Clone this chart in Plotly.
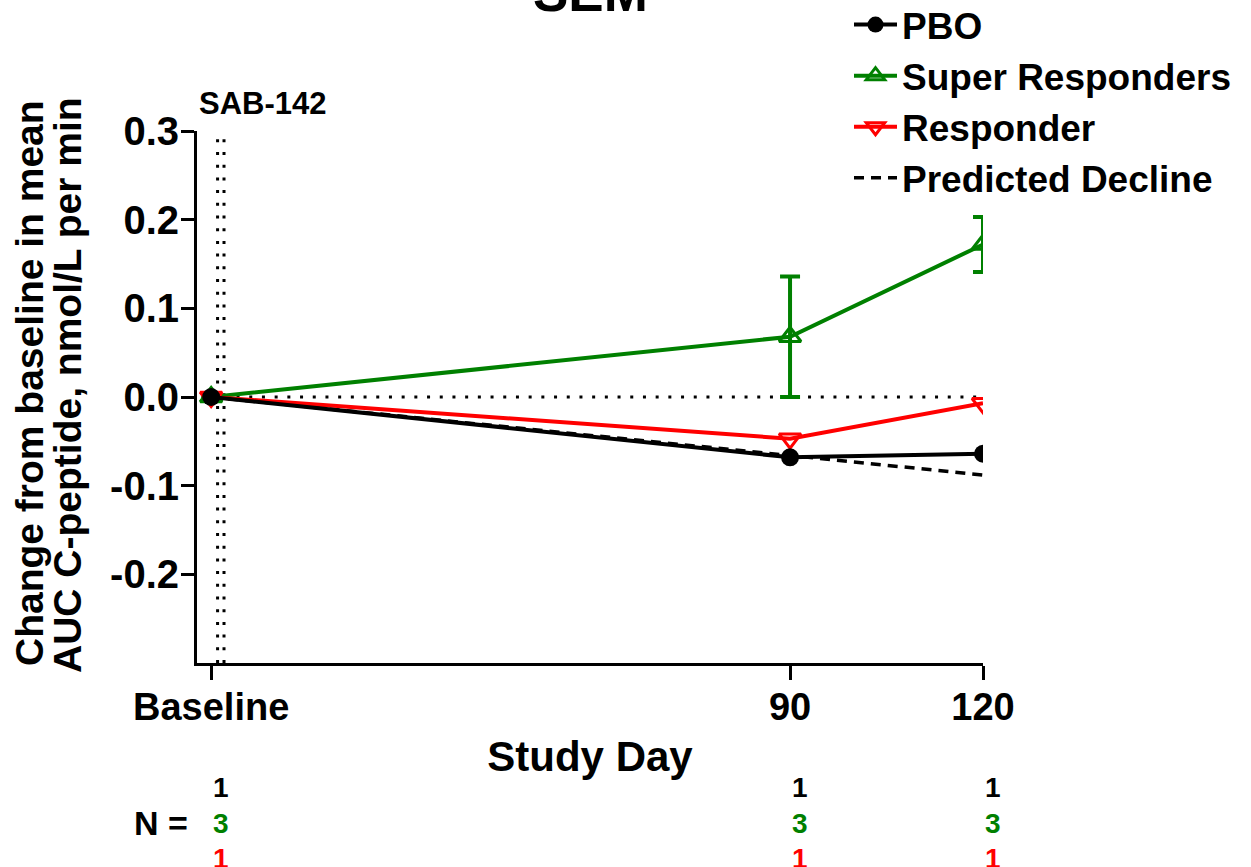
import plotly.graph_objects as go

# ---- data ----
days = [0, 90, 120]
x_ticktext = ["Baseline", "90", "120"]
pbo = [0.0, -0.068, -0.064]
super_resp = [0.0, 0.068, 0.172]
super_err = [0.0, 0.068, 0.031]
responder = [0.0, -0.047, -0.007]
predicted = [0.0, -0.066, -0.088]
zero_line = [0.0, 0.0]
zero_days = [0, 120]
dosing_days = [1, 2]
y_ticks = [-0.2, -0.1, 0.0, 0.1, 0.2, 0.3]
y_ticktext = ["-0.2", "-0.1", "0.0", "0.1", "0.2", "0.3"]
n_pbo = [1, 1, 1]
n_super = [3, 3, 3]
n_resp = [1, 1, 1]

FONT = "Liberation Sans, Arial, sans-serif"
GREEN = "#008000"
RED = "#FF0000"

fig = go.Figure()

# dosing reference lines (dotted vertical)
for d in dosing_days:
    fig.add_trace(go.Scatter(x=[d, d], y=[-0.3, 0.3], mode="lines",
                             line=dict(color="black", width=3, dash="3px,9.7px"),
                             showlegend=False, hoverinfo="skip", cliponaxis=False))
# zero dotted line
fig.add_trace(go.Scatter(x=zero_days, y=zero_line, mode="lines",
                         line=dict(color="black", width=3, dash="3px,9.7px"),
                         showlegend=False, hoverinfo="skip"))

fig.add_trace(go.Scatter(x=days, y=predicted, mode="lines", name="Predicted Decline",
                         line=dict(color="black", width=3.5, dash="10px,7px"),
                         legendrank=4))
fig.add_trace(go.Scatter(x=days, y=super_resp, mode="lines+markers", name="Super Responders",
                         line=dict(color=GREEN, width=4),
                         marker=dict(symbol="triangle-up-open", size=19, color=GREEN,
                                     line=dict(width=3, color=GREEN)),
                         error_y=dict(type="data", array=super_err, visible=True,
                                      color=GREEN, thickness=4, width=10),
                         legendrank=2))
fig.add_trace(go.Scatter(x=days, y=responder, mode="lines+markers", name="Responder",
                         line=dict(color=RED, width=4),
                         marker=dict(symbol="triangle-down-open", size=19, color=RED,
                                     line=dict(width=3, color=RED)),
                         legendrank=3))
fig.add_trace(go.Scatter(x=days, y=pbo, mode="lines+markers", name="PBO",
                         line=dict(color="black", width=4),
                         marker=dict(symbol="circle", size=18, color="black"),
                         legendrank=1))

bold = dict(family=FONT, color="black", weight="bold")

annotations = []
# title (partially cut at top)
annotations.append(dict(text="SEM", xref="paper", yref="paper", x=0.5, y=1.201,
                        xanchor="center", yanchor="bottom", showarrow=False,
                        font=dict(size=53, **bold)))
annotations.append(dict(text="SAB-142", xref="paper", yref="paper", x=0.0, y=1.051,
                        xanchor="left", yanchor="middle", showarrow=False,
                        font=dict(size=31, **bold)))
# y-axis title as two lines
annotations.append(dict(text="Change from baseline in mean", xref="paper", yref="paper",
                        x=(29 - 197) / 786, y=(663 - 383) / 532, xanchor="center",
                        yanchor="middle", textangle=-90, showarrow=False,
                        font=dict(size=39, **bold)))
annotations.append(dict(text="AUC C-peptide, nmol/L per min", xref="paper", yref="paper",
                        x=(67 - 197) / 786, y=(663 - 385) / 532, xanchor="center",
                        yanchor="middle", textangle=-90, showarrow=False,
                        font=dict(size=39, **bold)))
# N table
annotations.append(dict(text="N =", xref="paper", yref="paper", x=(161 - 197) / 786,
                        y=(663 - 823) / 532, xanchor="center", yanchor="middle",
                        showarrow=False, font=dict(size=34, **bold)))
for vals, col, ypix in [(n_pbo, "black", 787), (n_super, GREEN, 823), (n_resp, RED, 858)]:
    for d, v in zip(days, vals):
        annotations.append(dict(text=str(v), xref="x", yref="paper", x=d, xshift=10,
                                y=(663 - ypix) / 532, xanchor="center", yanchor="middle",
                                showarrow=False,
                                font=dict(size=28, family=FONT, color=col, weight="bold")))

fig.update_layout(
    width=1251, height=867,
    margin=dict(l=197, r=268, t=131, b=204, autoexpand=False),
    paper_bgcolor="white", plot_bgcolor="white",
    showlegend=True,
    legend=dict(x=(849 - 197) / 786, y=(663 + 6) / 532, xanchor="left", yanchor="top",
                font=dict(size=37, **bold), bgcolor="rgba(0,0,0,0)",
                itemwidth=43, tracegroupgap=0),
    annotations=annotations,
    xaxis=dict(range=[-2.2, 120], tickvals=days, ticktext=x_ticktext,
               showline=True, linewidth=3, linecolor="black", ticks="outside",
               ticklen=14, tickwidth=3, tickcolor="black", showgrid=False, zeroline=False,
               tickfont=dict(size=38, **bold), ticklabelstandoff=-6,
               title=dict(text="Study Day", font=dict(size=42, **bold), standoff=16)),
    yaxis=dict(range=[-0.3, 0.3], tickvals=y_ticks, ticktext=y_ticktext,
               showline=True, linewidth=3, linecolor="black", ticks="outside",
               ticklen=13, tickwidth=3, tickcolor="black", showgrid=False, zeroline=False,
               tickfont=dict(size=40, **bold), ticklabelstandoff=-6),
)

fig.write_html("out.html")
